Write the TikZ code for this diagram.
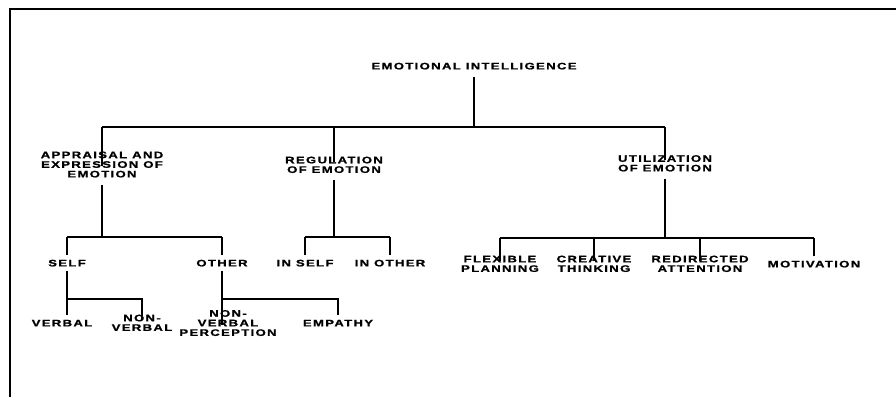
\documentclass[tikz,border=0pt]{standalone}
\usepackage{fontspec}
\setmainfont{Liberation Sans}[FakeStretch=1.38, LetterSpace=14, FakeBold=1.2]
\begin{document}
\begin{tikzpicture}[x=1pt,y=-1pt,
  lbl/.style={font=\fontsize{9.5}{9.6}\selectfont\bfseries, align=center, inner xsep=1pt, inner ysep=4pt, text height=6.8pt, text depth=0pt},
  conn/.style={line width=1.3pt},
  frame/.style={line width=1.5pt}]
\useasboundingbox (0,0) rectangle (896,397);
% frame
\coordinate (fbl) at (10,397);
\coordinate (ftl) at (10,9);
\coordinate (ftr) at (896,9);
\draw[frame] (fbl) -- (ftl) -- (ftr);
% nodes
\node[lbl] (ei) at (474,66) {EMOTIONAL INTELLIGENCE};
\node[lbl] (app) at (102,174) {APPRAISAL AND\\EXPRESSION OF\\EMOTION};
\node[lbl] (reg) at (334,169.5) {REGULATION\\OF EMOTION};
\node[lbl] (uti) at (665,168) {UTILIZATION\\OF EMOTION};
\node[lbl] (self) at (67,263) {SELF};
\node[lbl] (other) at (222,263) {OTHER};
\node[lbl] (inself) at (305,263) {IN SELF};
\node[lbl] (inother) at (390,263) {IN OTHER};
\node[lbl] (flex) at (500,268.5) {FLEXIBLE\\PLANNING};
\node[lbl] (crea) at (594,268.5) {CREATIVE\\THINKING};
\node[lbl] (redi) at (700,268.5) {REDIRECTED\\ATTENTION};
\node[lbl] (moti) at (814,264) {MOTIVATION};
\node[lbl] (verbal) at (62,323) {VERBAL};
\node[lbl] (nonverbal) at (142,327.5) {NON-\\VERBAL};
\node[lbl] (nvp) at (228,332.5) {NON-\\VERBAL\\PERCEPTION};
\node[lbl] (emp) at (338,323) {EMPATHY};
% bus levels
\coordinate (b1) at (0,127);
\coordinate (b2) at (0,237);
\coordinate (b3) at (0,238);
\coordinate (b4) at (0,299);
% level 1
\draw[conn] ([yshift=-3pt]ei.south) -- (ei.south |- b1);
\draw[conn] (app.north |- b1) -- (uti.north |- b1);
\foreach \c in {app,reg,uti} \draw[conn] (\c.north) -- (\c.north |- b1);
% appraisal
\draw[conn] ([yshift=-3pt]app.south) -- (app.south |- b2);
\draw[conn] (self.north |- b2) -- (other.north |- b2);
\foreach \c in {self,other} \draw[conn] (\c.north) -- (\c.north |- b2);
% regulation
\draw[conn] ([yshift=-3pt]reg.south) -- (reg.south |- b2);
\draw[conn] (inself.north |- b2) -- (inother.north |- b2);
\foreach \c in {inself,inother} \draw[conn] (\c.north) -- (\c.north |- b2);
% utilization
\draw[conn] ([yshift=-3pt]uti.south) -- (uti.south |- b3);
\draw[conn] (flex.north |- b3) -- (moti.north |- b3);
\foreach \c in {flex,crea,redi,moti} \draw[conn] (\c.north) -- (\c.north |- b3);
% self
\draw[conn] (self.south) -- (self.south |- verbal.north);
\draw[conn] (self.south |- b4) -- (nonverbal.north |- b4) -- (nonverbal.north);
% other
\draw[conn] (other.south) -- (other.south |- nvp.north);
\draw[conn] (other.south |- b4) -- (emp.north |- b4) -- (emp.north);
\end{tikzpicture}
\end{document}
